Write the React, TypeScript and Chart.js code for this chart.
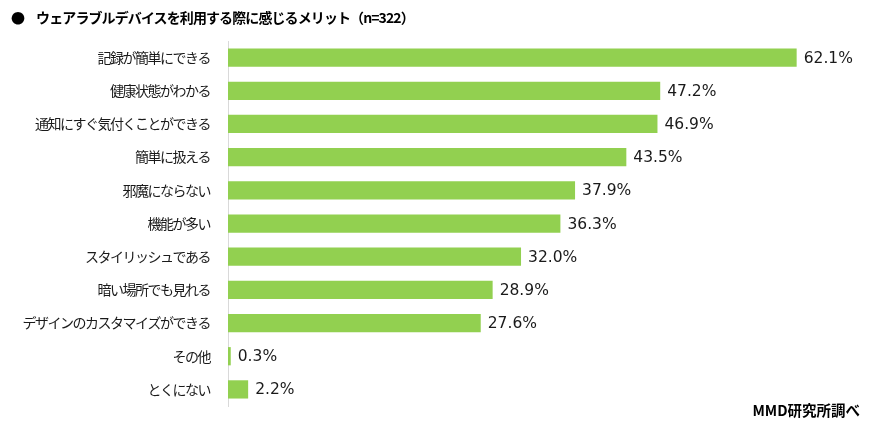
import React, { useEffect, useRef } from "react";
import { Chart, registerables } from "chart.js";

Chart.register(...registerables);

const categories = [
  "記録が簡単にできる",
  "健康状態がわかる",
  "通知にすぐ気付くことができる",
  "簡単に扱える",
  "邪魔にならない",
  "機能が多い",
  "スタイリッシュである",
  "暗い場所でも見れる",
  "デザインのカスタマイズができる",
  "その他",
  "とくにない",
];
const values = [62.1, 47.2, 46.9, 43.5, 37.9, 36.3, 32.0, 28.9, 27.6, 0.3, 2.2];
const titleText = "ウェアラブルデバイスを利用する際に感じるメリット（n=322）";
const sourceText = "MMD研究所調べ";

const FONT = "'Noto Sans CJK JP', 'Noto Sans', sans-serif";
const NUM_FONT = "'DejaVu Sans', sans-serif";

export default function App() {
  const ref = useRef<HTMLCanvasElement | null>(null);
  useEffect(() => {
    if (!ref.current) return;
    const spacing = {
      id: "spacing",
      beforeDraw(chart: any) {
        (chart.ctx as any).letterSpacing = "-1.5px";
      },
      beforeDatasetsDraw(chart: any) {
        (chart.ctx as any).letterSpacing = "0px";
      },
    };
    const valueLabels = {
      id: "valueLabels",
      afterDatasetsDraw(chart: any) {
        const ctx = chart.ctx;
        const meta = chart.getDatasetMeta(0);
        ctx.save();
        (ctx as any).letterSpacing = "0px";
        ctx.font = `15.5px ${NUM_FONT}`;
        ctx.fillStyle = "#1a1a1a";
        ctx.textAlign = "left";
        ctx.textBaseline = "middle";
        meta.data.forEach((el: any, i: number) => {
          ctx.fillText(values[i].toFixed(1) + "%", el.x + 7, el.y + 1);
        });
        ctx.restore();
      },
    };
    const chart = new Chart(ref.current, {
      type: "bar",
      data: {
        labels: categories,
        datasets: [
          {
            data: values,
            backgroundColor: "#92D050",
            borderWidth: 0,
            categoryPercentage: 0.55,
            barPercentage: 1,
          },
        ],
      },
      options: {
        indexAxis: "y",
        animation: false,
        responsive: false,
        maintainAspectRatio: false,
        layout: { padding: { top: 41, bottom: 23, left: 0, right: 3 } },
        plugins: { legend: { display: false }, tooltip: { enabled: false } },
        scales: {
          x: { display: false, min: 0, max: 70 },
          y: {
            grid: { display: false },
            border: { display: true, color: "#D9D9D9", width: 1 },
            ticks: {
              color: "#1a1a1a",
              padding: 10,
              font: { size: 14, family: FONT },
            },
            afterFit(scale: any) {
              scale.width = 228;
            },
          },
        },
      },
      plugins: [spacing, valueLabels],
    });
    return () => chart.destroy();
  }, []);
  return (
    <div style={{ position: "fixed", left: 0, top: 0, width: 872, height: 429, background: "#fff" }}>
      <canvas ref={ref} width={872} height={429} style={{ position: "absolute", left: 0, top: 0 }} />
      <div
        style={{
          position: "absolute",
          left: 11,
          top: 7,
          fontFamily: FONT,
          fontWeight: 700,
          fontSize: 14,
          color: "#000",
          whiteSpace: "nowrap",
          letterSpacing: "-0.9px",
        }}
      >
        <span style={{ marginRight: 12 }}>●</span>
        {titleText}
      </div>
      <div
        style={{
          position: "absolute",
          right: 12,
          top: 399,
          fontFamily: FONT,
          fontWeight: 700,
          fontSize: 14.5,
          color: "#000",
          whiteSpace: "nowrap",
        }}
      >
        {sourceText}
      </div>
    </div>
  );
}
